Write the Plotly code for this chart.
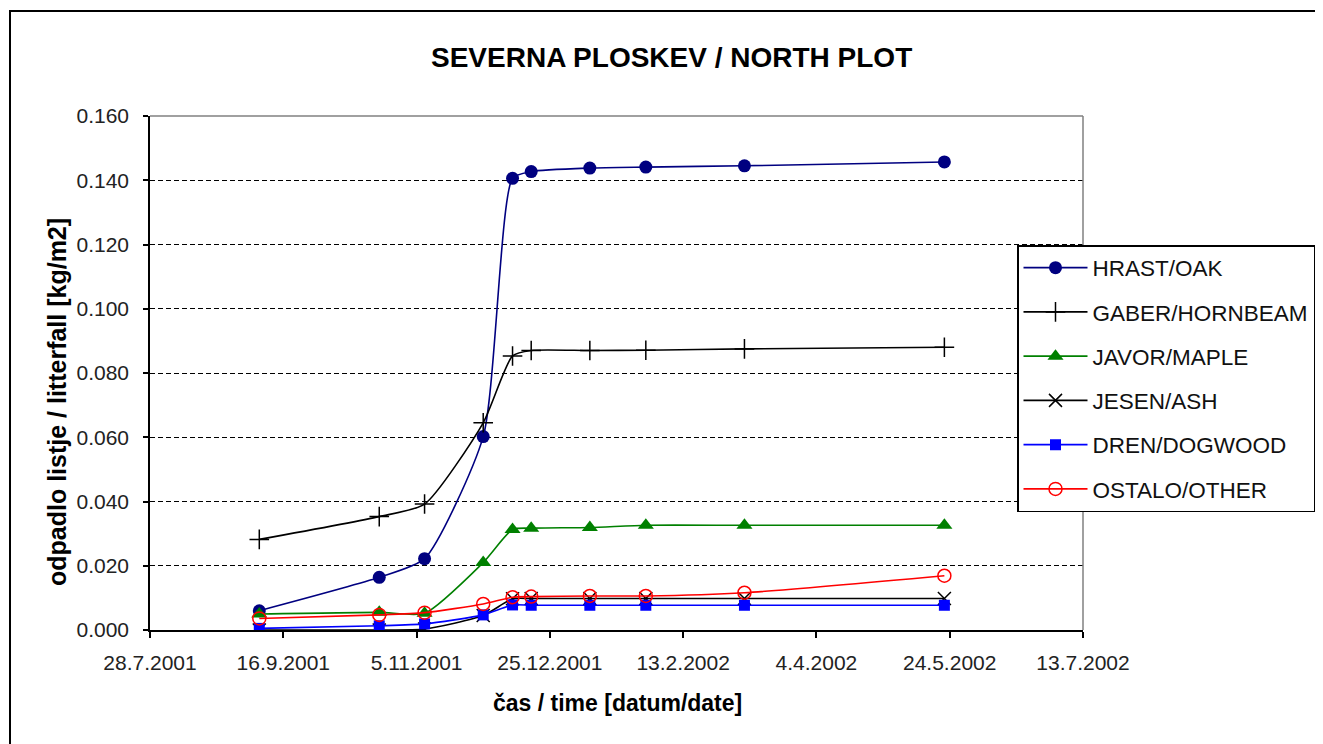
import plotly.graph_objects as go

# ---- data ----
dates = ["2001-09-07", "2001-10-22", "2001-11-08", "2001-11-30", "2001-12-11",
         "2001-12-18", "2002-01-09", "2002-01-30", "2002-03-08", "2002-05-22"]
oak = [0.0060, 0.0164, 0.0222, 0.0602, 0.1406, 0.1427, 0.1438, 0.1441, 0.1445, 0.1457]
hornbeam = [0.0282, 0.0353, 0.0392, 0.0645, 0.0853, 0.0870, 0.0870, 0.0871, 0.0875, 0.0880]
maple = [0.0050, 0.0055, 0.0052, 0.0210, 0.0313, 0.0317, 0.0319, 0.0326, 0.0326, 0.0326]
ash = [0.0000, 0.0000, 0.0003, 0.0045, 0.0097, 0.0098, 0.0098, 0.0098, 0.0098, 0.0098]
dogwood = [0.0005, 0.0013, 0.0019, 0.0047, 0.0078, 0.0077, 0.0077, 0.0077, 0.0077, 0.0077]
other = [0.0036, 0.0047, 0.0054, 0.0081, 0.0102, 0.0104, 0.0106, 0.0106, 0.0116, 0.0169]

series_names = ["HRAST/OAK", "GABER/HORNBEAM", "JAVOR/MAPLE", "JESEN/ASH",
                "DREN/DOGWOOD", "OSTALO/OTHER"]
x_tick_vals = ["2001-07-28", "2001-09-16", "2001-11-05", "2001-12-25", "2002-02-13",
               "2002-04-04", "2002-05-24", "2002-07-13"]
x_tick_text = ["28.7.2001", "16.9.2001", "5.11.2001", "25.12.2001", "13.2.2002",
               "4.4.2002", "24.5.2002", "13.7.2002"]
y_ticks = [0.0, 0.02, 0.04, 0.06, 0.08, 0.10, 0.12, 0.14, 0.16]

# ---- layout geometry (screen pixels) ----
W, H = 1323, 744
OFF = 8  # page body margin
FW, FH = W - OFF, H - OFF
L, R, T, B = 150, 1083, 116, 630


def px(x):
    return (x - L) / (R - L)


def py(y):
    return (B - y) / (B - T)


def cx(x):
    return (x - OFF) / FW


def cy(y):
    return 1 - (y - OFF) / FH


FONT = "Liberation Sans, Arial, sans-serif"

styles = [
    dict(color="#000080", symbol="circle", size=13, mline=None),
    dict(color="#000000", symbol="cross-thin", size=14, mline="#000000"),
    dict(color="#008000", symbol="triangle-up", size=14, mline=None),
    dict(color="#000000", symbol="x-thin", size=13, mline="#000000"),
    dict(color="#0000FF", symbol="square", size=11, mline=None),
    dict(color="#FF0000", symbol="circle-open", size=13, mline="#FF0000"),
]
values = [oak, hornbeam, maple, ash, dogwood, other]

fig = go.Figure()
for i, (name, vals, st) in enumerate(zip(series_names, values, styles)):
    marker = dict(symbol=st["symbol"], size=st["size"], color=st["color"])
    if st["mline"]:
        marker["line"] = dict(color=st["mline"], width=1.5)
    else:
        marker["line"] = dict(width=0)
    fig.add_trace(go.Scatter(
        x=dates, y=vals, name=name, mode="lines+markers",
        line=dict(color=st["color"], width=1.6, shape="spline", smoothing=0.6),
        marker=marker, legendgroup=f"g{i}",
    ))

shapes = [
    # outer chart border
    dict(type="rect", xref="paper", yref="paper", x0=px(10), x1=px(1340),
         y0=py(770), y1=py(11), line=dict(color="black", width=2), layer="above"),
    # plot area top and right border (gray)
    dict(type="line", xref="paper", yref="paper", x0=0, x1=1, y0=1, y1=1,
         line=dict(color="#808080", width=1.5), layer="above"),
    dict(type="line", xref="paper", yref="paper", x0=1, x1=1, y0=0, y1=1,
         line=dict(color="#808080", width=1.5), layer="above"),
]

annotations = [
    dict(text="<b>SEVERNA PLOSKEV / NORTH PLOT</b>", xref="paper", yref="paper",
         x=px(671), y=py(58), xanchor="center", yanchor="middle", showarrow=False,
         font=dict(family=FONT, size=28, color="black")),
    dict(text="<b>čas / time [datum/date]</b>", xref="paper", yref="paper",
         x=px(617), y=py(703), xanchor="center", yanchor="middle", showarrow=False,
         font=dict(family=FONT, size=23, color="black")),
    dict(text="<b>odpadlo listje / litterfall [kg/m2]</b>", xref="paper", yref="paper",
         x=px(57), y=py(402), xanchor="center", yanchor="middle", showarrow=False,
         textangle=-90, font=dict(family=FONT, size=25, color="black")),
]

fig.update_layout(
    width=FW, height=FH,
    margin=dict(l=L - OFF, r=W - R, t=T - OFF, b=H - B, pad=0, autoexpand=False),
    paper_bgcolor="white", plot_bgcolor="white",
    font=dict(family=FONT, size=21, color="#222222"),
    showlegend=True,
    legend=dict(xref="container", yref="container",
                x=cx(1017), y=cy(245), xanchor="left", yanchor="top",
                bgcolor="white", bordercolor="black", borderwidth=1.5,
                font=dict(family=FONT, size=22.5, color="#111111"),
                tracegroupgap=12, itemwidth=64),
    shapes=shapes, annotations=annotations,
)

fig.update_xaxes(
    type="date", range=[x_tick_vals[0], x_tick_vals[-1]], automargin=False,
    tickmode="array", tickvals=x_tick_vals, ticktext=x_tick_text,
    showgrid=False, zeroline=False, showline=True, linecolor="black", linewidth=1.5,
    ticks="outside", ticklen=6, tickcolor="black", tickwidth=1.5,
    ticklabelstandoff=7,
    tickfont=dict(family=FONT, size=21, color="#222222"),
)
fig.update_yaxes(
    range=[0, 0.16], tickmode="array", tickvals=y_ticks, automargin=False,
    ticktext=[f"{v:.3f}" for v in y_ticks],
    showgrid=True, gridcolor="black", gridwidth=1.3, griddash="5px,3px",
    zeroline=False, showline=True, linecolor="black", linewidth=1.5,
    ticks="outside", ticklen=5, tickcolor="black", tickwidth=1.5,
    ticklabelstandoff=10,
    tickfont=dict(family=FONT, size=21, color="#222222"),
)

fig.write_html("out.html")
